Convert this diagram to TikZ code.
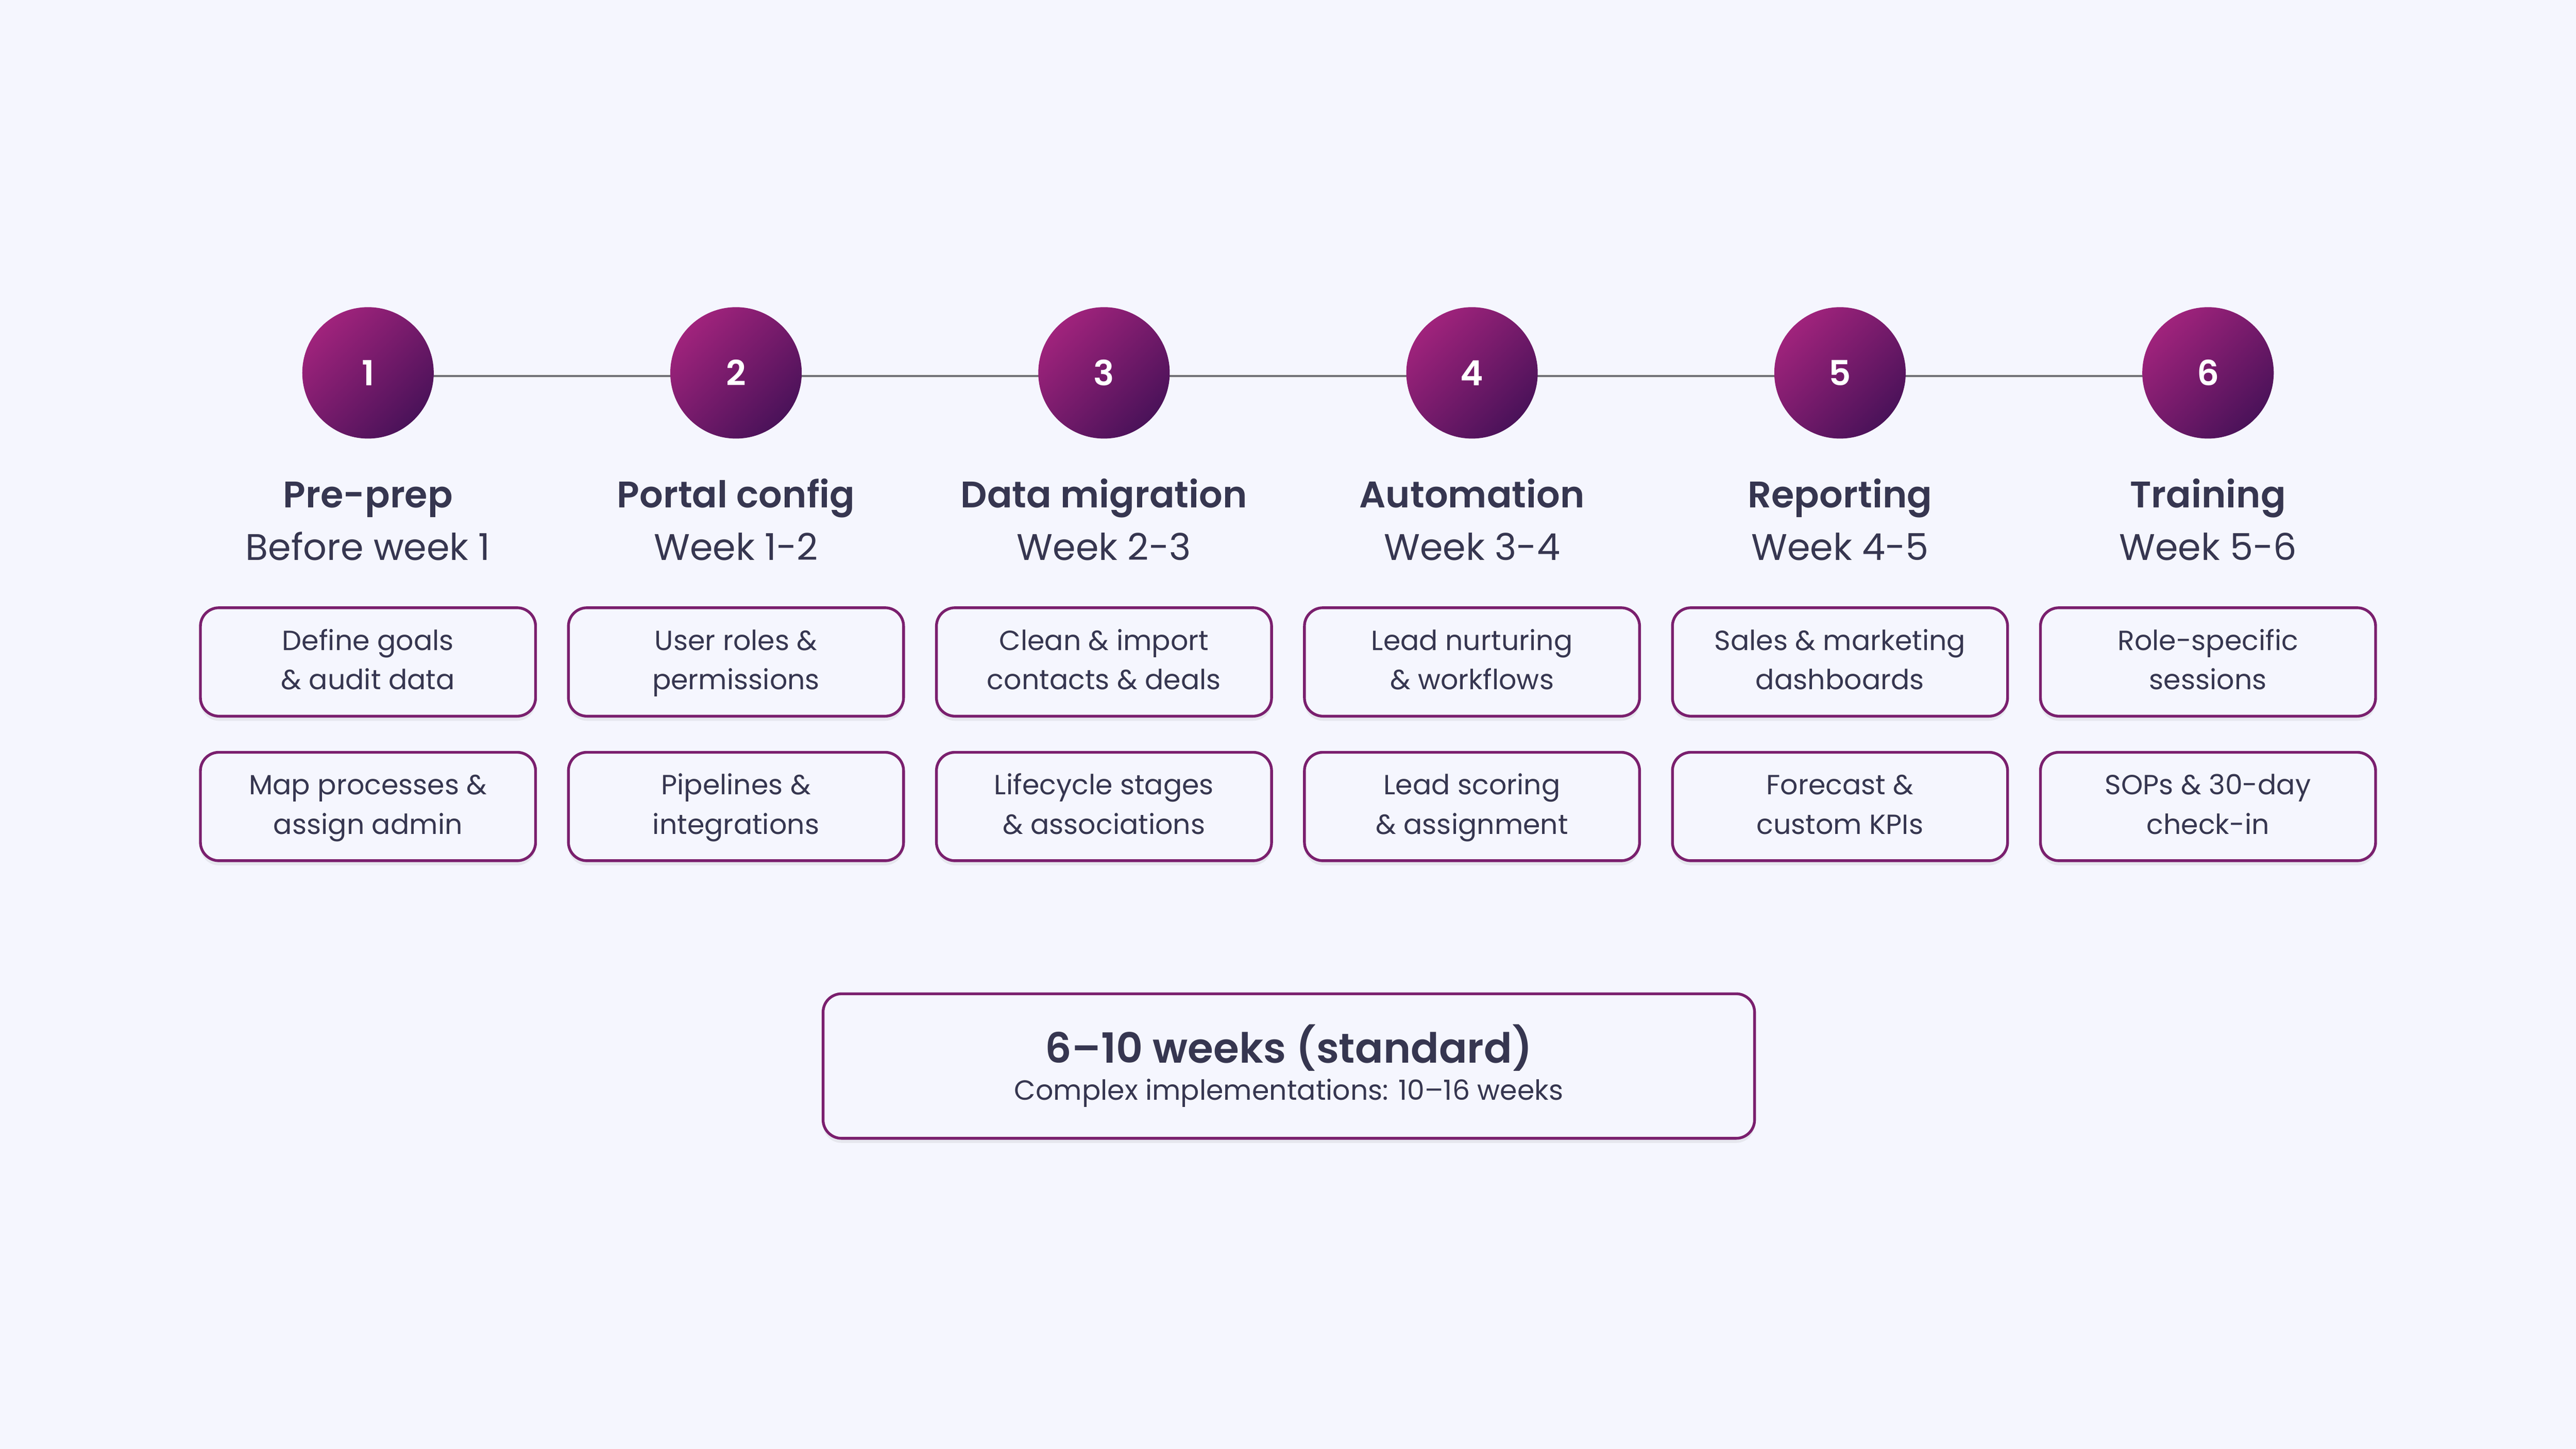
\documentclass[tikz,border=0pt]{standalone}
\usepackage{fontspec}
\setmainfont{Poppins}[BoldFont={Poppins SemiBold}]
\usetikzlibrary{shadows}
\definecolor{bg}{HTML}{F5F6FE}
\definecolor{ink}{HTML}{363650}
\definecolor{plum}{HTML}{7A1F6E}
\definecolor{magenta}{HTML}{A0237C}
\definecolor{grape}{HTML}{4A1259}
\tikzset{
  phase/.style={circle, minimum size=80*0.025cm, inner sep=0pt, left color=magenta, right color=grape, shading angle=45, text=white, font=\bfseries\fontsize{15}{18}\selectfont},
  label/.style={text=ink, anchor=base, inner sep=0pt},
  task/.style={draw=plum, line width=1.2pt, rounded corners=8pt, fill=bg, minimum width=204*0.025cm, minimum height=66*0.025cm, align=center, text=ink, font=\fontsize{12}{17}\selectfont, drop shadow={opacity=0.12, shadow xshift=0pt, shadow yshift=-2pt}},
}
\begin{document}
\begin{tikzpicture}[x=0.025cm, y=-0.025cm]

    % Background
    \fill[bg] (0,0) rectangle (1568,882);
    \useasboundingbox (0,0) rectangle (1568,882);

    % Timeline
    \draw[gray!80!ink, line width=0.8pt] (224,229) -- (1344,229);

    \foreach \i/\title/\when/\taskA/\taskB in {
        1/Pre-prep/Before week 1/{Define goals\\\& audit data}/{Map processes \&\\assign admin},
        2/Portal config/Week 1-2/{User roles \&\\permissions}/{Pipelines \&\\integrations},
        3/Data migration/Week 2-3/{Clean \& import\\contacts \& deals}/{Lifecycle stages\\\& associations},
        4/Automation/Week 3-4/{Lead nurturing\\\& workflows}/{Lead scoring\\\& assignment},
        5/Reporting/Week 4-5/{Sales \& marketing\\dashboards}/{Forecast \&\\custom KPIs},
        6/Training/Week 5-6/{Role-specific\\sessions}/{SOPs \& 30-day\\check-in}} {
        \pgfmathsetmacro{\x}{224*\i}
        \node[phase] (c\i) at (\x,227) {\i};
        \node[label, font=\bfseries\fontsize{16}{20}\selectfont] (t\i) at (\x,309) {\title};
        \node[label, font=\fontsize{16}{20}\selectfont] (w\i) at (\x,341) {\when};
        \node[task] (a\i) at (\x,403) {\strut\taskA\strut};
        \node[task] (b\i) at (\x,491) {\strut\taskB\strut};
    }

    % Summary
    \node[task, minimum width=567*0.025cm, minimum height=88*0.025cm, font=\fontsize{12}{16}\selectfont] (sum) at (784.5,649)
        {{\bfseries\fontsize{18}{24}\selectfont 6–10 weeks (standard)}\\Complex implementations: 10–16 weeks};

\end{tikzpicture}
\end{document}
